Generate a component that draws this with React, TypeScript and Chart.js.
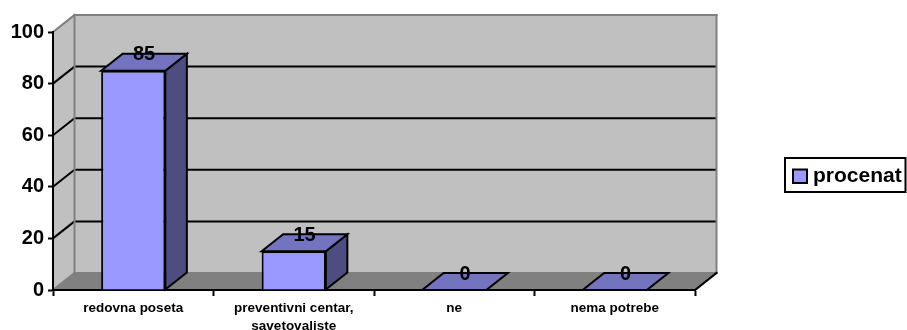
import React, { useEffect, useRef } from "react";
import { Chart, registerables } from "chart.js";

Chart.register(...registerables);

const categories: (string | string[])[] = [
  "redovna poseta",
  ["preventivni centar,", "savetovaliste"],
  "ne",
  "nema potrebe",
];
const seriesName = "procenat";
const procenat = [85, 15, 0, 0];
const yTicks = [0, 20, 40, 60, 80, 100];

const FONT = '"Liberation Sans", Arial, sans-serif';
const DX = 21.5;
const DY = -17;

const poly = (ctx: CanvasRenderingContext2D, pts: number[][], fill: string | null, stroke: string | null, lw = 2) => {
  ctx.beginPath();
  pts.forEach((p, i) => (i ? ctx.lineTo(p[0], p[1]) : ctx.moveTo(p[0], p[1])));
  ctx.closePath();
  if (fill) {
    ctx.fillStyle = fill;
    ctx.fill();
  }
  if (stroke) {
    ctx.strokeStyle = stroke;
    ctx.lineWidth = lw;
    ctx.lineJoin = "miter";
    ctx.stroke();
  }
};

const line = (ctx: CanvasRenderingContext2D, x1: number, y1: number, x2: number, y2: number, color: string, lw = 2) => {
  ctx.beginPath();
  ctx.moveTo(x1, y1);
  ctx.lineTo(x2, y2);
  ctx.strokeStyle = color;
  ctx.lineWidth = lw;
  ctx.stroke();
};

const walls = {
  id: "walls",
  beforeDraw(chart: any) {
    const { ctx, chartArea: a, scales } = chart;
    ctx.save();
    poly(ctx, [[a.left, a.top], [a.left + DX, a.top + DY], [a.left + DX, a.bottom + DY], [a.left, a.bottom]], "#c0c0c0", null);
    poly(ctx, [[a.left + DX, a.top + DY], [a.right + DX, a.top + DY], [a.right + DX, a.bottom + DY], [a.left + DX, a.bottom + DY]], "#c0c0c0", null);
    poly(ctx, [[a.left, a.bottom], [a.left + DX, a.bottom + DY], [a.right + DX, a.bottom + DY], [a.right, a.bottom]], "#808080", null);
    yTicks.forEach((v) => {
      if (v === 0 || v === 100) return;
      const y = scales.y.getPixelForValue(v);
      line(ctx, a.left, y, a.left + DX, y + DY, "#000");
      line(ctx, a.left + DX, y + DY, a.right + DX, y + DY, "#000");
    });
    ctx.lineCap = "square";
    line(ctx, a.left, a.top, a.left + DX, a.top + DY, "#808080");
    line(ctx, a.left + DX, a.top + DY, a.right + DX, a.top + DY, "#808080");
    line(ctx, a.left + DX, a.top + DY, a.left + DX, a.bottom + DY, "#808080");
    line(ctx, a.right + DX, a.top + DY, a.right + DX, a.bottom + DY, "#808080");
    line(ctx, a.left + DX, a.bottom + DY, a.right + DX, a.bottom + DY, "#808080");
    line(ctx, a.left, a.bottom, a.left + DX, a.bottom + DY, "#808080");
    line(ctx, a.right, a.bottom, a.right + DX, a.bottom + DY, "#000");
    ctx.restore();
  },
};

const bars3d = {
  id: "bars3d",
  afterDatasetsDraw(chart: any) {
    const { ctx } = chart;
    const meta = chart.getDatasetMeta(0);
    ctx.save();
    meta.data.forEach((bar: any) => {
      const l = bar.x - bar.width / 2;
      const r = bar.x + bar.width / 2;
      const t = bar.y;
      const b = bar.base;
      if (b - t > 0.5) {
        poly(ctx, [[r, t], [r + DX, t + DY], [r + DX, b + DY], [r, b]], "#4d4d80", "#000");
      }
      poly(ctx, [[l, t], [l + DX, t + DY], [r + DX, t + DY], [r, t]], "#7373bf", "#000");
    });
    meta.data.forEach((bar: any, i: number) => {
      ctx.fillStyle = "#000";
      ctx.font = `bold 20px ${FONT}`;
      ctx.textAlign = "center";
      ctx.textBaseline = "middle";
      ctx.fillText(String(procenat[i]), bar.x + DX / 2, bar.y + DY + 1);
    });
    ctx.restore();
  },
};

const legendBox = {
  id: "legendBox",
  afterDraw(chart: any) {
    const { ctx } = chart;
    ctx.save();
    ctx.fillStyle = "#fff";
    ctx.strokeStyle = "#000";
    ctx.lineWidth = 2;
    ctx.fillRect(785, 158, 120.5, 34);
    ctx.strokeRect(785, 158, 120.5, 34);
    ctx.fillStyle = "#9999ff";
    ctx.fillRect(793, 169.5, 14, 13.5);
    ctx.strokeRect(793, 169.5, 14, 13.5);
    ctx.fillStyle = "#000";
    ctx.font = `bold 21px ${FONT}`;
    ctx.textAlign = "left";
    ctx.textBaseline = "middle";
    ctx.fillText(chart.data.datasets[0].label, 813, 176);
    ctx.restore();
  },
};

export default function App() {
  const ref = useRef<HTMLCanvasElement>(null);
  useEffect(() => {
    const chart = new Chart(ref.current!, {
      type: "bar",
      data: {
        labels: categories as any,
        datasets: [
          {
            label: seriesName,
            data: procenat,
            backgroundColor: "#9999ff",
            borderColor: "#000",
            borderWidth: 2,
            barPercentage: 0.4,
            categoryPercentage: 1,
          },
        ],
      },
      options: {
        animation: false,
        responsive: false,
        layout: { padding: { top: 32, right: 212, left: 0, bottom: 0 } },
        plugins: { legend: { display: false }, tooltip: { enabled: false }, title: { display: false } },
        scales: {
          x: {
            afterFit: (s: any) => {
              s.height = 40;
            },
            grid: { drawOnChartArea: false, drawTicks: true, tickLength: 6, tickColor: "#000", tickWidth: 2, offset: true },
            border: { color: "#000", width: 2 },
            ticks: {
              color: "#000",
              maxRotation: 0,
              autoSkip: false,
              padding: 3,
              font: { family: FONT, size: 13.5, weight: "bold", lineHeight: 1.33 },
            },
          },
          y: {
            min: 0,
            max: 100,
            afterFit: (s: any) => {
              s.width = 53;
            },
            grid: { drawOnChartArea: false, drawTicks: true, tickLength: 5, tickColor: "#000", tickWidth: 2 },
            border: { color: "#000", width: 2 },
            ticks: {
              stepSize: 20,
              color: "#000",
              padding: 4,
              font: { family: FONT, size: 20, weight: "bold" },
            },
          },
        },
      } as any,
      plugins: [walls, bars3d, legendBox],
    });
    return () => chart.destroy();
  }, []);
  return (
    <div style={{ position: "fixed", left: 0, top: 0, width: 907, height: 330, background: "#fff" }}>
      <canvas ref={ref} width={907} height={330} style={{ display: "block" }} />
    </div>
  );
}
